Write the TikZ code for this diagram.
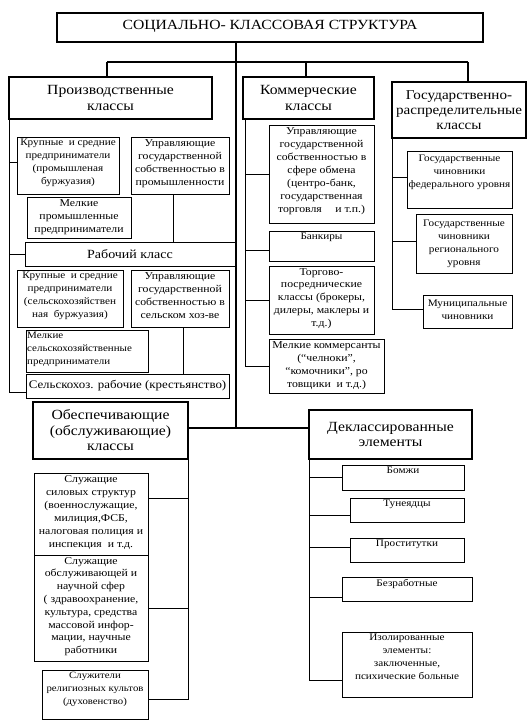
\documentclass[tikz,border=0pt]{standalone}
\usepackage{fontspec}
\setmainfont{Liberation Serif}[FakeStretch=1.12]
\usetikzlibrary{fit}
\tikzset{
  bxs/.style={draw, line width=0.9pt, inner sep=0pt, outer sep=0pt},
  bxt/.style={draw, line width=2pt, inner sep=0pt, outer sep=0pt},
  conn/.style={line width=0.9pt},
  thk/.style={line width=2pt},
  ttl/.style={font=\fontsize{14}{16}\selectfont},
  big/.style={font=\fontsize{14}{15.5}\selectfont},
  mid/.style={font=\fontsize{12.5}{14}\selectfont},
  sel/.style={font=\fontsize{11.5}{13}\selectfont},
  sm/.style={font=\fontsize{10.5}{13}\selectfont},
  smr/.style={font=\fontsize{10}{13}\selectfont},
  xs/.style={font=\fontsize{10}{13}\selectfont},
  tiny/.style={font=\fontsize{9.8}{13}\selectfont},
}
% box with text at the top
\newcommand\tbox[8]{%
  \node[#2, fit={(#3,#4) (#5,#6)}] (#1) {};
  \node[anchor=north, align=center, inner sep=0pt, yshift=-2pt, #7] (#1t) at (#1.north) {#8};}
% box with centred text
\newcommand\cbox[8]{%
  \node[#2, fit={(#3,#4) (#5,#6)}] (#1) {};
  \node[anchor=center, align=center, inner sep=0pt, #7] (#1t) at (#1.center) {#8};}
\begin{document}
\begin{tikzpicture}[x=1pt,y=-1pt]
\useasboundingbox (0,0) rectangle (528,726);

% main boxes
\cbox{title}{bxt}{57}{13}{483}{42}{ttl,yshift=1pt}{СОЦИАЛЬНО- КЛАССОВАЯ СТРУКТУРА}
\cbox{prod}{bxt}{9}{77}{212}{119}{big}{Производственные\\классы}
\cbox{kom}{bxt}{243}{77}{374}{119}{big}{Коммерческие\\классы}
\cbox{gos}{bxt}{392}{82}{526}{138}{big,font=\fontsize{13.5}{15}\selectfont}{Государственно-\\распределительные\\классы}
\cbox{obes}{bxt}{33}{402}{188}{459}{big}{Обеспечивающие\\(обслуживающие)\\классы}
\cbox{dekl}{bxt}{309}{410}{472}{459}{big}{Деклассированные\\элементы}

% production classes
\tbox{kr1}{bxs}{17}{137}{119}{194}{smr}{Крупные \ и средние\\предприниматели\\(промышленая\\буржуазия)}
\tbox{up1}{bxs}{131}{137}{229}{194}{sm}{Управляющие\\государственной\\собственностью в\\промышленности}
\tbox{ml1}{bxs}{27}{197}{131}{238}{sm}{Мелкие\\промышленные\\предприниматели}
\cbox{rab}{bxs}{25}{242}{235}{266}{mid}{Рабочий класс}
\tbox{kr2}{bxs}{17}{270}{123}{327}{smr}{Крупные \ и средние\\предприниматели\\(сельскохозяйствен\\ная \ буржуазия)}
\tbox{up2}{bxs}{131}{270}{229}{327}{sm}{Управляющие\\государственной\\собственностью в\\сельском хоз-ве}
\node[bxs, fit={(26,330) (148,372)}] (ml2) {};
\node[anchor=north west, align=left, inner sep=0pt, xshift=1pt, yshift=-2pt, tiny] (ml2t) at (ml2.north west) {Мелкие\\сельскохозяйственные\\предприниматели};
\cbox{sr}{bxs}{26}{374}{229}{398}{sel}{Сельскохоз. рабочие (крестьянство)}

% commercial classes
\tbox{uo}{bxs}{269}{125}{374}{223}{sm}{Управляющие\\государственной\\собственностью в\\сфере обмена\\(центро-банк,\\государственная\\торговля \quad и т.п.)}
\tbox{bank}{bxs}{269}{231}{374}{261}{xs}{Банкиры}
\tbox{torg}{bxs}{269}{266}{374}{334}{sm,font=\fontsize{10.5}{12.8}\selectfont}{Торгово-\\посреднические\\классы (брокеры,\\дилеры, маклеры и\\т.д.)}
\tbox{mk}{bxs}{269}{339}{384}{393}{sm}{Мелкие коммерсанты\\(“челноки”,\\“комочники”, ро\\товщики \ и т.д.)}

% state classes
\tbox{fed}{bxs}{407}{151}{512}{208}{xs,yshift=-2pt}{Государственные\\чиновники\\федерального уровня}
\tbox{reg}{bxs}{416}{214}{512}{273}{xs,yshift=-4pt}{Государственные\\чиновники\\регионального\\уровня}
\tbox{mun}{bxs}{423}{295}{512}{328}{xs,yshift=-3pt}{Муниципальные\\чиновники}

% service classes
\tbox{sil}{bxs}{34}{473}{148}{555}{sm}{Служащие\\силовых структур\\(военнослужащие,\\милиция,ФСБ,\\налоговая полиция и\\инспекция \ и т.д.}
\tbox{obs}{bxs}{34}{555}{148}{661}{sm,font=\fontsize{10.5}{12.8}\selectfont}{Служащие\\обслуживающей и\\научной сфер\\( здравоохранение,\\культура, средства\\массовой инфор-\\мации, научные\\работники}
\tbox{rel}{bxs}{42}{670}{148}{719}{smr,font=\fontsize{9.6}{13}\selectfont}{Служители\\религиозных культов\\(духовенство)}

% declassed elements
\tbox{bomzh}{bxs}{342}{465}{464}{490}{xs}{Бомжи}
\tbox{tun}{bxs}{350}{498}{464}{522}{xs}{Тунеядцы}
\tbox{prost}{bxs}{350}{538}{464}{562}{xs}{Проститутки}
\tbox{bezr}{bxs}{342}{577}{472}{601}{xs}{Безработные}
\tbox{izol}{bxs}{342}{632}{472}{697}{xs}{Изолированные\\элементы:\\заключенные,\\психические больные}

% trunk lines
\coordinate (st) at (236,428);
\coordinate (d1) at (107,62);
\coordinate (d2) at (306,62);
\coordinate (d3) at (468,62);
\draw[thk] (title.south -| st) -- (st);
\draw[thk] (obes.east |- st) -- (dekl.west |- st);
\draw[thk] (d1) -- (d3);
\draw[thk] (d1) -- (d1 |- prod.north);
\draw[thk] (d2) -- (d2 |- kom.north);
\draw[thk] (d3) -- (d3 |- gos.north);

% production connectors
\draw[conn] (prod.south west) |- ([yshift=-6pt]sr.west);
\draw[conn] (prod.south west |- kr1.west) ++(0,-3) -- ([yshift=3pt]kr1.west);
\draw[conn] (prod.south west |- rab.west) -- (rab.west);
\draw[conn] ([xshift=-7pt]up1.south) -- ([xshift=-7pt]up1.south |- rab.north);
\draw[conn] ([xshift=3pt]up2.south) -- ([xshift=3pt]up2.south |- sr.north);

% commercial connectors
\draw[conn] (kom.south west) ++(2,0) |- (mk.west);
\draw[conn] ([xshift=2pt]kom.south west |- uo.west) -- (uo.west);
\draw[conn] ([xshift=2pt]kom.south west |- bank.west) ++(0,4) -- ([yshift=-4pt]bank.west);
\draw[conn] ([xshift=2pt]kom.south west |- torg.west) -- (torg.west);

% state connectors
\draw[conn] (gos.south west) |- ([yshift=2pt]mun.west);
\draw[conn] (gos.south west |- fed.west) ++(0,-2) -- ([yshift=2pt]fed.west);
\draw[conn] (gos.south west |- reg.west) ++(0,-2) -- ([yshift=2pt]reg.west);

% service connectors
\draw[conn] (obes.south east) |- ([yshift=-5pt]rel.east);
\draw[conn] (obes.south east |- sil.east) ++(0,-16) -- ([yshift=16pt]sil.east);
\draw[conn] (obes.south east |- obs.east) -- (obs.east);

% declassed connectors
\draw[conn] (dekl.south west) |- ([yshift=-16pt]izol.west);
\draw[conn] (dekl.south west |- bomzh.west) -- (bomzh.west);
\draw[conn] (dekl.south west |- tun.west) ++(0,5) -- ([yshift=-5pt]tun.west);
\draw[conn] (dekl.south west |- prost.west) ++(0,-3) -- ([yshift=3pt]prost.west);
\draw[conn] (dekl.south west |- bezr.west) ++(0,8) -- ([yshift=-8pt]bezr.west);
\end{tikzpicture}
\end{document}
